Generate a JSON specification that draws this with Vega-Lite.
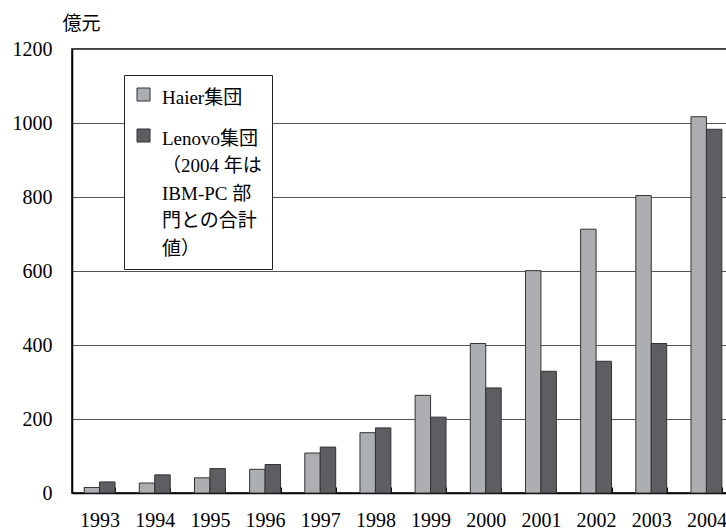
{
  "$schema": "https://vega.github.io/schema/vega-lite/v6.json",
  "width": 662,
  "height": 444,
  "autosize": {"type": "none"},
  "padding": {"left": 72, "top": 49, "right": -8, "bottom": 37},
  "background": "white",
  "config": {"view": {"stroke": "#000", "strokeWidth": 1.5}, "font": "Liberation Serif"},
  "data": {
    "values": [
      {"year": "1993", "series": "Haier集団", "value": 15},
      {"year": "1993", "series": "Lenovo集団", "value": 30},
      {"year": "1994", "series": "Haier集団", "value": 27},
      {"year": "1994", "series": "Lenovo集団", "value": 49},
      {"year": "1995", "series": "Haier集団", "value": 41},
      {"year": "1995", "series": "Lenovo集団", "value": 66},
      {"year": "1996", "series": "Haier集団", "value": 64},
      {"year": "1996", "series": "Lenovo集団", "value": 77},
      {"year": "1997", "series": "Haier集団", "value": 108},
      {"year": "1997", "series": "Lenovo集団", "value": 124},
      {"year": "1998", "series": "Haier集団", "value": 163},
      {"year": "1998", "series": "Lenovo集団", "value": 176},
      {"year": "1999", "series": "Haier集団", "value": 264},
      {"year": "1999", "series": "Lenovo集団", "value": 205},
      {"year": "2000", "series": "Haier集団", "value": 404},
      {"year": "2000", "series": "Lenovo集団", "value": 284},
      {"year": "2001", "series": "Haier集団", "value": 601},
      {"year": "2001", "series": "Lenovo集団", "value": 329},
      {"year": "2002", "series": "Haier集団", "value": 713},
      {"year": "2002", "series": "Lenovo集団", "value": 356},
      {"year": "2003", "series": "Haier集団", "value": 804},
      {"year": "2003", "series": "Lenovo集団", "value": 404},
      {"year": "2004", "series": "Haier集団", "value": 1017},
      {"year": "2004", "series": "Lenovo集団", "value": 983}
    ]
  },
  "mark": {"type": "bar", "stroke": "#333", "strokeWidth": 1},
  "encoding": {
    "x": {
      "field": "year",
      "type": "ordinal",
      "scale": {"paddingInner": 0.44, "paddingOuter": 0.22},
      "axis": {
        "title": null,
        "labelAngle": 0,
        "labelFont": "Liberation Serif",
        "labelFontSize": 20,
        "labelColor": "#000",
        "tickBand": "extent",
        "tickSize": -6,
        "tickColor": "#000",
        "tickWidth": 1,
        "domainColor": "#000",
        "domainWidth": 1.5,
        "labelPadding": 23
      }
    },
    "xOffset": {"field": "series", "type": "nominal"},
    "y": {
      "field": "value",
      "type": "quantitative",
      "scale": {"domain": [0, 1200]},
      "axis": {
        "values": [0, 200, 400, 600, 800, 1000, 1200],
        "format": "d",
        "title": "億元",
        "titleFont": "Noto Sans CJK JP",
        "titleFontSize": 19,
        "titleFontWeight": "normal",
        "titleColor": "#000",
        "titleAngle": 0,
        "titleAlign": "left",
        "titleBaseline": "top",
        "titleX": -10,
        "titleY": -35,
        "labelFont": "Liberation Serif",
        "labelFontSize": 20,
        "labelColor": "#000",
        "labelPadding": 20,
        "ticks": false,
        "domainColor": "#000",
        "domainWidth": 1.5,
        "grid": true,
        "gridColor": "#555",
        "gridWidth": 1
      }
    },
    "color": {
      "field": "series",
      "type": "nominal",
      "scale": {"range": ["#adaeb2", "#5e5e62"]},
      "legend": {
        "title": null,
        "orient": "none",
        "legendX": 52,
        "legendY": 26,
        "fillColor": "white",
        "strokeColor": "#222",
        "padding": 10,
        "symbolType": "square",
        "symbolSize": 169,
        "symbolStrokeColor": "#333",
        "symbolStrokeWidth": 1,
        "symbolOpacity": 1,
        "labelFont": "'Liberation Serif', 'Noto Sans CJK JP'",
        "labelFontSize": 19,
        "labelColor": "#000",
        "labelOffset": 9,
        "labelLimit": 0,
        "labelBaseline": "top",
        "rowPadding": 18,
        "labelExpr": "datum.value == 'Lenovo集団' ? ['Lenovo集団', '（2004 年は', 'IBM-PC 部', '門との合計', '値）'] : datum.label",
        "encode": {"labels": {"update": {"lineHeight": {"value": 27.5}, "dy": {"value": -6}}}}
      }
    }
  }
}
